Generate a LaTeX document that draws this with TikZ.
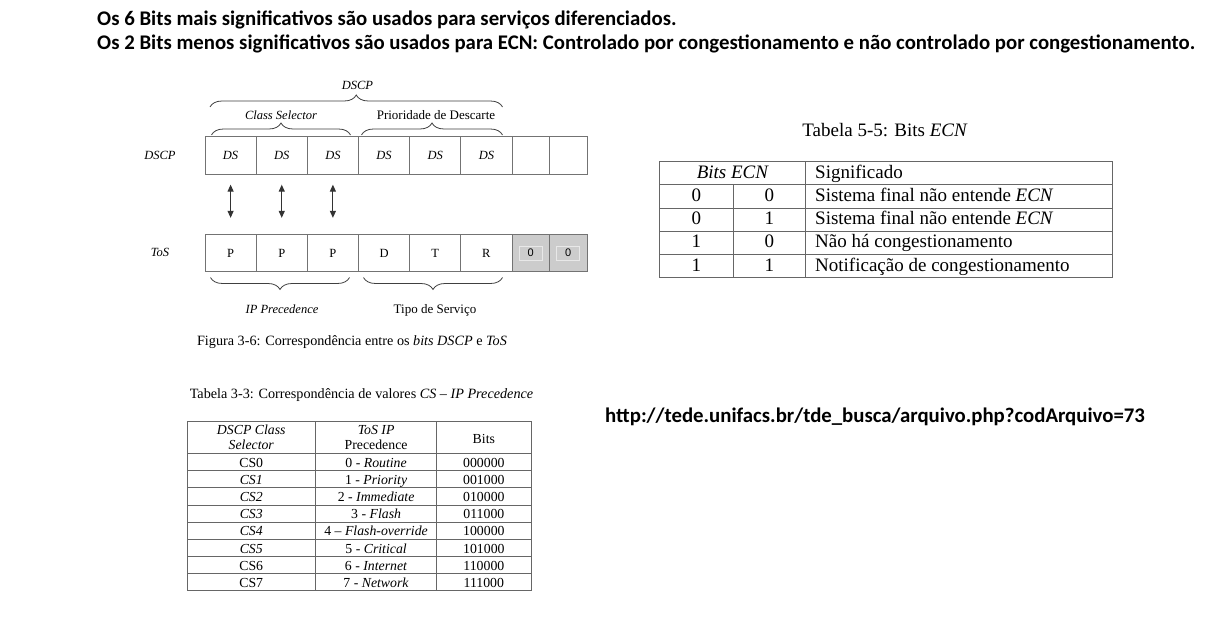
\documentclass[tikz,border=0pt]{standalone}
\usepackage{fontspec}
\setmainfont{Liberation Serif}
\setsansfont{Liberation Sans}
\newfontfamily\calfont{Carlito}
\usetikzlibrary{decorations.pathreplacing,arrows.meta}
\begin{document}
\begin{tikzpicture}[x=1pt,y=-1pt,
  cellbox/.style={draw=black!55, line width=0.8pt, minimum height=37.5pt, inner sep=0pt, font=\fontsize{12.5}{14}\selectfont},
  wide/.style={cellbox, minimum width=51.17pt},
  narrow/.style={cellbox, minimum width=37.5pt},
  grayc/.style={narrow, fill=black!20},
  zerobox/.style={draw=black!9, line width=0.8pt, minimum width=23pt, minimum height=14pt, inner sep=0pt, font=\sffamily\fontsize{11}{12}\selectfont},
  lbl/.style={inner sep=0pt, anchor=base, font=\fontsize{12.5}{14}\selectfont},
  brc/.style={draw=black!75, line width=0.8pt, decorate, decoration={brace, amplitude=12pt}},
  dbl/.style={draw=black!80, line width=1.1pt, {Triangle[length=7pt,width=6pt]}-{Triangle[length=7pt,width=6pt]}, shorten <=10pt, shorten >=16pt},
  head/.style={inner sep=0pt, anchor=base west, font=\calfont\bfseries\fontsize{20.8}{24}\selectfont},
  tline/.style={draw=black!60, line width=0.8pt},
  ta/.style={inner sep=0pt, anchor=base, font=\fontsize{13.8}{14.7}\selectfont, align=center},
  tb/.style={inner sep=0pt, anchor=base, font=\fontsize{19}{22}\selectfont},
  tbl/.style={tb, anchor=base west},
  captext/.style={inner sep=0pt, anchor=base}
]
\useasboundingbox[fill=white] (0,0) rectangle (1232,620);

% heading
\node[head] (h1) at (97,26) {Os 6 Bits mais significativos são usados para serviços diferenciados.};
\node[head] (h2) at (97,49.5) {Os 2 Bits menos significativos são usados para ECN: Controlado por congestionamento e não controlado por congestionamento.};
\node[head] (url) at (605,422) {http://tede.unifacs.br/tde\_busca/arquivo.php?codArquivo=73};

% DSCP row
\node[lbl] (ldscp) at (160,160) {\itshape DSCP};
\node[wide] (d1) at (230.6,155.5) {\itshape DS};
\node[wide] (d2) at (281.75,155.5) {\itshape DS};
\node[wide] (d3) at (332.9,155.5) {\itshape DS};
\node[wide] (d4) at (384.1,155.5) {\itshape DS};
\node[wide] (d5) at (435.25,155.5) {\itshape DS};
\node[wide] (d6) at (486.4,155.5) {\itshape DS};
\node[narrow] (d7) at (530.75,155.5) {};
\node[narrow] (d8) at (568.25,155.5) {};

% ToS row
\node[lbl] (ltos) at (160,257) {\itshape ToS};
\node[wide] (t1) at (230.6,253) {P};
\node[wide] (t2) at (281.75,253) {P};
\node[wide] (t3) at (332.9,253) {P};
\node[wide] (t4) at (384.1,253) {D};
\node[wide] (t5) at (435.25,253) {T};
\node[wide] (t6) at (486.4,253) {R};
\node[grayc] (t7) at (530.75,253) {};
\node[grayc] (t8) at (568.25,253) {};
\node[zerobox] (z7) at (t7.center) {0};
\node[zerobox] (z8) at (t8.center) {0};

% arrows
\draw[dbl] (d1.south) -- (t1.north);
\draw[dbl] (d2.south) -- (t2.north);
\draw[dbl] (d3.south) -- (t3.north);

% braces top
\coordinate (ba1) at (210,107);
\coordinate (ba2) at (502.5,107);
\coordinate (bb1) at (211.5,135);
\coordinate (bb2) at (350.5,135);
\coordinate (bc1) at (361.5,135);
\coordinate (bc2) at (502.5,135);
\draw[brc] (ba1) -- (ba2);
\draw[brc] (bb1) -- (bb2);
\draw[brc] (bc1) -- (bc2);
\node[lbl] (lda) at (357.5,89.5) {\itshape DSCP};
\node[lbl] (lcs) at (281,119.5) {\itshape Class Selector};
\node[lbl, font=\fontsize{13}{14}\selectfont] (lpd) at (436,119.5) {Prioridade de Descarte};

% braces bottom
\coordinate (bd1) at (349.5,277.5);
\coordinate (bd2) at (210.5,277.5);
\coordinate (be1) at (502.5,277.5);
\coordinate (be2) at (363.5,277.5);
\draw[brc] (bd1) -- (bd2);
\draw[brc] (be1) -- (be2);
\node[lbl] (lip) at (282,313.5) {\itshape IP Precedence};
\node[lbl, font=\fontsize{13}{14}\selectfont] (lts) at (435,313.5) {Tipo de Serviço};

\node[captext, font=\fontsize{14.2}{16}\selectfont] (fig) at (352,346) {Figura 3-6: Correspondência entre os \textit{bits DSCP} e \textit{ToS}};

% Table 3-3
\node[captext, font=\fontsize{14.2}{16}\selectfont] (tab33) at (361.5,399) {Tabela 3-3: Correspondência de valores \textit{CS} -- \textit{IP Precedence}};
\draw[tline] (187,421) rectangle (531,590.7);
\draw[tline] (315.5,421) -- (315.5,590.7);
\draw[tline] (436.7,421) -- (436.7,590.7);
\foreach \i in {0,...,7} {
  \draw[tline] (187,453.6+17.14*\i) -- (531,453.6+17.14*\i);
}
\node[ta] (c11) at (251.25,449) {\itshape DSCP Class\\\itshape Selector};
\node[ta] (c12) at (376.1,449) {\itshape ToS IP\\Precedence};
\node[ta] (c13) at (483.85,443) {Bits};
\node[ta] (r0a) at (251.25,467.3) {CS0};
\node[ta] (r0b) at (376.1,467.3) {0 - \textit{Routine}};
\node[ta] (r0c) at (483.85,467.3) {000000};
\node[ta] (r1a) at (251.25,484.4) {\itshape CS1};
\node[ta] (r1b) at (376.1,484.4) {1 - \textit{Priority}};
\node[ta] (r1c) at (483.85,484.4) {001000};
\node[ta] (r2a) at (251.25,501.6) {\itshape CS2};
\node[ta] (r2b) at (376.1,501.6) {2 - \textit{Immediate}};
\node[ta] (r2c) at (483.85,501.6) {010000};
\node[ta] (r3a) at (251.25,518.7) {\itshape CS3};
\node[ta] (r3b) at (376.1,518.7) {3 - \textit{Flash}};
\node[ta] (r3c) at (483.85,518.7) {011000};
\node[ta] (r4a) at (251.25,535.9) {\itshape CS4};
\node[ta] (r4b) at (376.1,535.9) {4 -- \textit{Flash-override}};
\node[ta] (r4c) at (483.85,535.9) {100000};
\node[ta] (r5a) at (251.25,553.0) {\itshape CS5};
\node[ta] (r5b) at (376.1,553.0) {5 - \textit{Critical}};
\node[ta] (r5c) at (483.85,553.0) {101000};
\node[ta] (r6a) at (251.25,570.1) {CS6};
\node[ta] (r6b) at (376.1,570.1) {6 - \textit{Internet}};
\node[ta] (r6c) at (483.85,570.1) {110000};
\node[ta] (r7a) at (251.25,587.3) {CS7};
\node[ta] (r7b) at (376.1,587.3) {7 - \textit{Network}};
\node[ta] (r7c) at (483.85,587.3) {111000};

% Table 5-5
\node[captext, font=\fontsize{19}{22}\selectfont] (tab55) at (885,136.5) {Tabela 5-5: Bits \textit{ECN}};
\draw[tline] (659.3,161.7) rectangle (1112,277.7);
\draw[tline] (805.5,161.7) -- (805.5,277.7);
\draw[tline] (733.3,184.9) -- (733.3,277.7);
\foreach \i in {1,...,4} {
  \draw[tline] (659.3,161.7+23.2*\i) -- (1112,161.7+23.2*\i);
}
\node[tb] (eh1) at (732.4,178.4) {\itshape Bits ECN};
\node[tbl] (eh2) at (815,178.4) {Significado};
\node[tb] (e1a) at (696.3,201.6) {0};
\node[tb] (e1b) at (769.4,201.6) {0};
\node[tbl] (e1c) at (815,201.6) {Sistema final não entende \textit{ECN}};
\node[tb] (e2a) at (696.3,224.8) {0};
\node[tb] (e2b) at (769.4,224.8) {1};
\node[tbl] (e2c) at (815,224.8) {Sistema final não entende \textit{ECN}};
\node[tb] (e3a) at (696.3,248.0) {1};
\node[tb] (e3b) at (769.4,248.0) {0};
\node[tbl] (e3c) at (815,248.0) {Não há congestionamento};
\node[tb] (e4a) at (696.3,271.2) {1};
\node[tb] (e4b) at (769.4,271.2) {1};
\node[tbl] (e4c) at (815,271.2) {Notificação de congestionamento};
\end{tikzpicture}
\end{document}
